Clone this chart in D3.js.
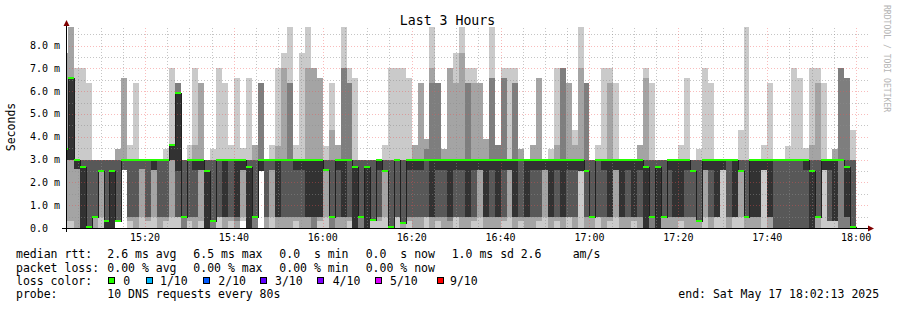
<!DOCTYPE html>
<html><head><meta charset="utf-8">
<script src="https://cdn.jsdelivr.net/npm/d3@7"></script>
<style>
body{margin:0;background:#fff}
text{font-family:"DejaVu Sans Mono",monospace;white-space:pre}
</style>
</head><body>
<svg id="chart" width="897" height="310"></svg>
<script>
// ---------- data ----------
const startTime = Date.UTC(2025,4,17,15,2,13);
const endTime   = Date.UTC(2025,4,17,18,2,13);
const firstStep = Date.UTC(2025,4,17,15,1,20);
const stepSeconds = 80;
// ten sorted ping rtts (ms) per 80 s step, rank 1..10
const pings = [
[0,0.3,3,3,3,3.47,3.47,3.47,7.66,7.66],
[0,0.3,3,3,3,6.57,6.57,6.57,8.8,8.8],
[0,0,2.6,2.6,2.6,3,3,3,3,7],
[0,0,0,0,0,2.66,3,3,3,7],
[0,0,0,0.04,0.04,0.04,3,3,3,6.36],
[0,0,0.47,0.47,0.47,0.47,3,3,3,3],
[0,0.47,2.5,2.5,2.5,2.5,3,3,3,3],
[0,0,0,0,0,0.3,3,3,3,3],
[0,0,0,0,0,2.5,3,3,3,3],
[0.3,0.3,0.3,0.3,0.3,0.3,3,3,3.47,3.47],
[2.55,2.55,2.55,2.55,3,3,3,3,6.58,6.58],
[0,0.3,0.47,0.47,3,3,3,3,3,3.65],
[0,0,0.47,0.47,3,3,3,3,3,6.36],
[0,0.47,2.6,2.6,3,3,3,3,3,3],
[0,0.3,0.47,0.47,3,3,3,3,3,3],
[0,0.47,2.55,2.55,2.55,3,3,3,3,3],
[0,0,0.47,0.47,3,3,3,3,3,3],
[0,0.3,0.47,0.47,3,3,3,3,3,3.47],
[0,0.47,3,3,3,3.65,3.65,3.65,3.65,7],
[0,0.47,0.47,0.47,2.5,5.9,5.9,6.36,6.36,6.36],
[0,0,0,0.47,0.47,0.47,3,3,3,3],
[0,0.3,0.47,0.47,3,3,3,3,3,3.65],
[0,0,0.47,0.47,2.55,3,3,3,3.65,7],
[0,0.3,2.55,2.55,2.55,3,3,3,6.36,6.36],
[0,0,0,0,0,2.5,3,3,3,3],
[0,0,0,0.3,0.3,0.3,3,3,3,3.47],
[0,0.47,0.47,0.47,3,3,3,3,3,7],
[0,0,0.47,0.47,0.47,3,3,3,3,6.36],
[0,0.3,0.47,0.47,3,3,3,3,3,3.65],
[0,0,0.3,0.47,0.47,3,3,3,3,6.58],
[0.3,0.47,2.55,2.55,2.55,3,3,3,3,3.5],
[0,0,0,0,0,2.66,3,3,3,6.58],
[0,0,0,0.47,0.47,0.47,3,3,3.65,3.65],
[2.5,2.5,2.5,2.5,2.5,3,3,6.36,6.36,6.36],
[0,0,0.47,0.47,3,3,3,3,3,3],
[0,0.47,2.55,2.55,3,3,3,3,3,3.65],
[0,0,0.47,0.47,0.47,3,3,3,3.6,7],
[0,0,0.47,0.47,3,3,3,3,7,7.66],
[0,0,0.47,0.47,3,3,3,6.36,6.36,8.8],
[0,0.3,0.47,0.47,2.55,3,3,3,3,3.65],
[0,0,0.47,0.47,2.55,3,3,3,3,7.66],
[0,0,0.47,0.47,0.47,3,3,3,7,8.8],
[0,0,0,0.47,0.47,3,3,3,7,7],
[0,0.3,0.47,0.47,0.47,3,3,3,6.58,6.58],
[0,0.47,2.55,2.55,2.55,2.55,3,3,3,3.6],
[0,0,0,0.47,0.47,0.47,3,3,4.3,6.36],
[0,0,0.47,0.47,2.55,3,3,3,3.65,3.65],
[0,0,0.47,0.47,0.47,3,3,7,7,8.8],
[0,0.3,0.47,0.47,3,3,3,6.36,6.36,7],
[0,0,0,0,0,2.66,3,3,3,6.58],
[0,0,0,0.47,0.47,0.47,3,3,3,3],
[0,0,0,0,0,2.66,3,3,3,3],
[0,0.37,0.37,0.37,0.37,0.37,3,3,3,3],
[0,0.3,0.47,0.47,2.55,3,3,3,3,3],
[0,0.47,2.5,2.5,2.5,2.5,3,3,3,3.65],
[0,0,0,0.04,0.04,0.04,3,3,3,7],
[0,0.47,0.47,0.47,3,3,3,3,3,7],
[0,0,0.2,0.2,0.2,0.2,3,3,3,7],
[0,0.3,0.47,0.47,2.55,3,3,3,3,6.58],
[0,0,0.47,0.47,2.55,3,3,3,3.65,3.65],
[0,0,0.47,0.47,2.55,3,3,3,6.36,6.36],
[0,0.47,0.47,0.47,3,3,3,3.47,3.9,3.9],
[0,0,0.47,0.47,0.47,3,3,6.36,7,8.8],
[0,0.3,0.47,0.47,2.55,3,3,6.36,6.36,6.36],
[0,0,0.47,0.47,2.55,3,3,3,3.47,3.47],
[0,0,0.3,0.47,0.47,3,3,3,7,7],
[0,0.47,0.47,0.47,2.55,3,3,3,6.36,7.66],
[0,0,0.47,0.47,2.55,3,3,3,7.66,8.8],
[0,0,0.47,0.47,0.47,3,3,6.36,6.36,7],
[0,0.3,0.47,0.47,2.55,3,3,3,6.36,7],
[0,0.47,2.55,2.55,2.55,3,3,3,6.36,6.36],
[0,0,0.47,0.47,0.47,3,3,3,3.9,3.9],
[0,0,0.47,0.47,2.55,3,3,6.58,6.58,8.8],
[0,0,0.47,0.47,0.47,3,3,3.65,3.65,3.65],
[0,0.3,0.47,0.47,2.55,3,3,6.58,6.58,7],
[0,0.47,2.55,2.55,2.55,3,3,3,3,7],
[0,0,0.47,0.47,0.47,3,3,6.36,6.36,7],
[0,0.3,0.47,0.47,3,3,3,3,3.47,3.47],
[0,0,0.47,0.47,0.47,3,3,3,3,3],
[0,0,0.47,0.47,2.55,3,3,3,3.65,3.65],
[0,0.3,0.47,0.47,2.55,3,3,3,6.58,6.58],
[0,0.47,2.55,2.55,2.55,3,3,3,3,3],
[0,0,0.47,0.47,0.47,3,3,3,3,3.47],
[0,0.3,0.47,0.47,2.55,3,3,3,3.65,7],
[0,0,0.47,0.47,0.47,3,3,7,7,7],
[0,0.47,0.47,0.47,2.55,3,3,3,6.36,6.36],
[0,0,0.47,0.47,2.55,3,3,3,3.65,4.3],
[0,2.5,2.5,2.5,2.5,3,3,3,7,8.8],
[0,0,0.47,0.47,2.5,2.5,3,6.36,6.36,6.36],
[0,0,0.47,0.47,0.47,0.47,3,3,3,3],
[0,0.47,0.47,0.47,3,3,3,3,3,3.65],
[0,0,0.47,0.47,2.55,3,3,3,3,7],
[0,0.3,0.47,0.47,0.47,3,3,3,6.36,7],
[0,0.47,2.55,2.55,2.55,3,3,3,3,6.36],
[0,0,0.47,0.47,0.47,3,3,3,3,3],
[0,0,0.47,0.47,2.55,3,3,3,3,3],
[0,0.3,0.47,0.47,0.47,3,3,3,3,3],
[0,0,0.47,0.47,2.55,3,3,3,3.65,3.65],
[0,0,0,0,0,2.66,3,3,6.58,7],
[0,0,0,0.47,0.47,0.47,3,3,3,6.36],
[0,0,0,0,0,2.66,3,3,3,3],
[0,0,0.47,0.47,0.47,0.47,3,3,3,3],
[0,0,0.47,0.47,2.55,3,3,3,3,3],
[0,0,0.47,0.47,0.47,3,3,3,3,3],
[0,0.3,0.47,0.47,0.47,3,3,3,3,3.65],
[0,0,0.47,0.47,2.55,3,3,3,3,6.58],
[0,0,0.47,0.47,2.5,2.5,3,3,3,3],
[0,0,0.3,0.3,0.3,0.3,3,3,3,3.47],
[0,0.47,2.55,2.55,2.55,3,3,3,3,7],
[0,0,0.47,0.47,2.55,3,3,3,3,6.36],
[0,0.47,0.47,0.47,0.47,3,3,3,3,3],
[0,2.55,2.55,2.55,2.55,3,3,3,3,3],
[0,0,0.47,0.47,3,3,3,3,3,3],
[0,0.47,0.47,0.47,0.47,3,3,3,3,3],
[0,0.47,2.5,2.5,2.5,2.5,3,3,3,4.3],
[0,0,0.47,0.47,0.47,0.47,3,3,3,8.8],
[0,0,0.47,0.47,0.47,3,3,3,3,3],
[0,0,0.47,0.47,0.47,3,3,3,3,3],
[0,2.55,2.55,2.55,2.55,3,3,3,3,3.65],
[0,0,0.47,0.47,0.47,3,3,3,3,6.36],
[0,0,0,0,3,3,3,3,3,3],
[0,0,0,0,3,3,3,3,3,3],
[0,0,0,0,3,3,3,3,3,3.6],
[0,0,0,0,3,3,3,3,3,7],
[0,0,0,0,3,3,3,3,3,6.58],
[0,0,0,0,2.55,3,3,3,3,3.5],
[0,0,0,0,0,2.5,3,3,3.65,7],
[0,0,0.47,0.47,0.47,0.47,3,3,6.36,7],
[0,2.55,2.55,2.55,2.55,3,3,3,3,6.36],
[0,0.3,0.3,0.3,2.55,3,3,3,3,3],
[0,0.3,0.3,0.3,0.3,3,3,3,3.47,3.47],
[0,0,0,3,3,3,3,7,7,7],
[0,0,0,0.47,0.47,2.66,3,6.58,6.58,6.58],
[0,0,0,0.04,0.04,0.04,3,3,3,4.3]
];
const medianRtt = pings.map(r => r[5]);   // smokeping median = 6th of 10 sorted pings
const yTickValues = [0,1,2,3,4,5,6,7,8];
const yTickLabels = ["0.0","1.0 m","2.0 m","3.0 m","4.0 m","5.0 m","6.0 m","7.0 m","8.0 m"];
const legendStats = [
  ["median rtt:", "2.6 ms avg", "6.5 ms max", "0.0  s min", "0.0  s now", "1.0 ms sd", "2.6"],
  ["packet loss:", "0.00 % avg", "0.00 % max", "0.00 % min", "0.00 % now"]
];
const lossLabels = ["0","1/10","2/10","3/10","4/10","5/10","9/10"];
const lossColors = ["#26ff00","#00b8ff","#0059ff","#5e00ff","#7e00ff","#dd00ff","#ff0000"];
const smokeGrays = ["#cacaca","#a4a4a4","#7e7e7e","#585858","#323232"];

// ---------- chart ----------
const svg = d3.select("#chart");
svg.append("rect").attr("width",897).attr("height",310).attr("fill","#fff");
const X0 = 66, X1 = 866, YB = 228, YT = 28;
const x = d3.scaleUtc().domain([new Date(startTime), new Date(endTime)]).range([X0, X1]);
const y = d3.scaleLinear().domain([0, 8.77]).range([YB, YT]);

const cols = pings.map((r, k) => {
  const t0 = Math.max(firstStep + k*stepSeconds*1000, startTime);
  const t1 = firstStep + (k+1)*stepSeconds*1000;
  return {k, r, x0: Math.round(x(new Date(t0))), x1: Math.round(x(new Date(t1))), m: medianRtt[k]};
});

const gSmoke = svg.append("g").attr("shape-rendering","crispEdges");
for (let i = 0; i < 5; i++) {
  gSmoke.append("g").selectAll("rect").data(cols).join("rect")
    .attr("x", d => d.x0).attr("width", d => d.x1 - d.x0)
    .attr("y", d => Math.round(y(d.r[9-i])))
    .attr("height", d => Math.max(0, Math.round(y(d.r[i])) - Math.round(y(d.r[9-i]))))
    .attr("fill", smokeGrays[i]);
}

// grid (drawn over the smoke, like rrdtool)
const minorCol = "rgba(140,140,140,0.5)", majorCol = "rgba(240,80,80,0.38)";
const gGrid = svg.append("g").attr("shape-rendering","crispEdges");
const minorY = d3.range(0.5, 8.77, 1);
gGrid.selectAll(".hm").data(minorY).join("line")
  .attr("x1", X0).attr("x2", X1 + 2)
  .attr("y1", d => Math.round(y(d)) + 0.5).attr("y2", d => Math.round(y(d)) + 0.5)
  .attr("stroke", minorCol).attr("stroke-dasharray","1,2");
const minorT = d3.utcMinute.every(5).range(new Date(startTime), new Date(endTime)).filter(t => t.getUTCMinutes() % 20 !== 0);
gGrid.selectAll(".vm").data(minorT).join("line")
  .attr("x1", d => Math.round(x(d)) + 0.5).attr("x2", d => Math.round(x(d)) + 0.5)
  .attr("y1", YT).attr("y2", YB)
  .attr("stroke", minorCol).attr("stroke-dasharray","1,2");
gGrid.selectAll(".hM").data(yTickValues.filter(v => v > 0)).join("line")
  .attr("x1", X0).attr("x2", X1 + 2)
  .attr("y1", d => Math.round(y(d)) + 0.5).attr("y2", d => Math.round(y(d)) + 0.5)
  .attr("stroke", majorCol).attr("stroke-dasharray","1,2");
const majorT = d3.utcMinute.every(20).range(new Date(startTime), new Date(endTime));
gGrid.selectAll(".vM").data(majorT).join("line")
  .attr("x1", d => Math.round(x(d)) + 0.5).attr("x2", d => Math.round(x(d)) + 0.5)
  .attr("y1", YT).attr("y2", YB)
  .attr("stroke", majorCol).attr("stroke-dasharray","1,2");

// median: dark step line + loss-coloured band
let dPath = "";
cols.forEach((c, i) => {
  const yy = Math.round(y(c.m)) + 0.5;
  if (i === 0) dPath += `M${c.x0},${yy}`; else dPath += `V${yy}`;
  dPath += `H${c.x1 + 0.5}`;
});
svg.append("path").attr("d", dPath).attr("fill","none").attr("stroke","#202020").attr("stroke-width",1)
  .attr("shape-rendering","crispEdges");
svg.append("g").attr("shape-rendering","crispEdges").selectAll("rect").data(cols).join("rect")
  .attr("x", d => d.x0).attr("width", d => d.x1 - d.x0)
  .attr("y", d => Math.round(y(d.m)) - 1).attr("height", 2)
  .attr("fill", lossColors[0]);

// axes
const gAx = svg.append("g").attr("shape-rendering","crispEdges");
gAx.append("line").attr("x1", 62).attr("x2", 870).attr("y1", YB + 0.5).attr("y2", YB + 0.5).attr("stroke","#000");
gAx.append("line").attr("x1", X0 + 0.5).attr("x2", X0 + 0.5).attr("y1", 24).attr("y2", 232).attr("stroke","#000");
svg.append("path").attr("d", `M${X0+0.5},20 L${X0-2.5},26 L${X0+3.5},26 Z`).attr("fill","#800000");
svg.append("path").attr("d", `M874,${YB+0.5} L868,${YB-2.5} L868,${YB+3.5} Z`).attr("fill","#800000");

// tick labels
svg.append("g").selectAll("text").data(yTickValues).join("text")
  .attr("x", 30).attr("y", d => y(d) + 3.5)
  .attr("font-size", "10px").attr("fill", "#000")
  .text((d, i) => yTickLabels[i]);
svg.append("g").selectAll("text").data(majorT).join("text")
  .attr("x", d => x(d)).attr("y", 241).attr("text-anchor","middle")
  .attr("font-size","10px").attr("fill","#000")
  .text(d => d3.utcFormat("%H:%M")(d));

// titles
svg.append("text").attr("x", 447.5).attr("y", 24.5).attr("text-anchor","middle")
  .attr("font-size","13.2px").attr("fill","#000").text("Last 3 Hours");
svg.append("text").attr("transform","translate(15,127) rotate(-90)").attr("text-anchor","middle")
  .attr("font-size","11.5px").attr("fill","#000").text("Seconds");
svg.append("text").attr("transform","translate(883.5,5) rotate(90)")
  .attr("font-size","8.1px").attr("fill","#b4b4b4").text("RRDTOOL / TOBI OETIKER");

// legend
const fs = "11.5px";
const segX = [16, 107.3, 193.3, 279.3, 365.7, 451.7, 520.7];
const rowY = [258, 271.5, 285, 298.3];
legendStats.forEach((row, ri) => {
  row.forEach((s, si) => {
    svg.append("text").attr("x", segX[si]).attr("y", rowY[ri]).attr("font-size", fs).attr("fill","#000").text(s);
  });
});
svg.append("text").attr("x", 572.7).attr("y", rowY[0]).attr("font-size", fs).attr("fill","#000").text("am/s");
svg.append("text").attr("x", 16).attr("y", rowY[2]).attr("font-size", fs).attr("fill","#000").text("loss color:");
const boxX = [108.3, 145.7, 202.7, 260, 317.3, 374.7, 436.7];
const lblX = [123.3, 160, 218.3, 275, 332.7, 390, 450];
lossLabels.forEach((l, i) => {
  svg.append("rect").attr("x", Math.round(boxX[i]) + 0.5).attr("y", 277.5).attr("width", 6).attr("height", 6)
    .attr("fill", lossColors[i]).attr("stroke","#000").attr("stroke-width",1).attr("shape-rendering","crispEdges");
  svg.append("text").attr("x", lblX[i]).attr("y", rowY[2]).attr("font-size", fs).attr("fill","#000").text(l);
});
svg.append("text").attr("x", 16).attr("y", rowY[3]).attr("font-size", fs).attr("fill","#000").text("probe:");
svg.append("text").attr("x", 107.3).attr("y", rowY[3]).attr("font-size", fs).attr("fill","#000").text("10 DNS requests every 80s");
svg.append("text").attr("x", 678.3).attr("y", rowY[3]).attr("font-size", fs).attr("fill","#000").text("end: Sat May 17 18:02:13 2025");
</script>
</body></html>
